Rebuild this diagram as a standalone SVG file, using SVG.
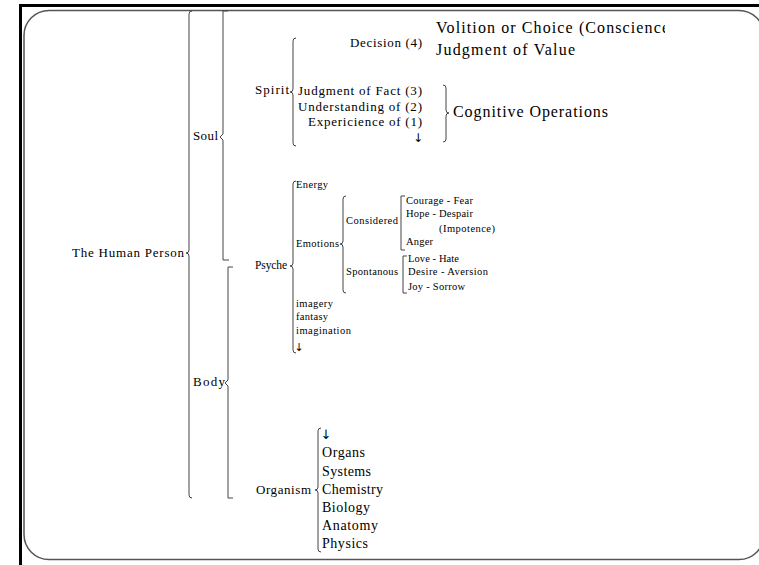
<svg xmlns="http://www.w3.org/2000/svg" width="759" height="565" viewBox="0 0 759 565">
<style>
text{font-family:"Liberation Serif","Times New Roman",serif;fill:#000}
.m{font-size:13px}
.l{font-size:16px}
.s{font-size:10.5px}
.o{font-size:14px}
.a{font-family:"DejaVu Sans",sans-serif}
.b{fill:none;stroke:#444;stroke-width:1}
</style>
<defs>
<clipPath id="clipV"><rect x="430" y="15" width="235" height="25"/></clipPath>
</defs>
<rect width="759" height="565" fill="#fff"/>
<g id="frame">
<line x1="19" y1="5.5" x2="759" y2="5.5" stroke="#000" stroke-width="3"/>
<line x1="20.5" y1="4" x2="20.5" y2="565" stroke="#000" stroke-width="3"/>
<rect x="24" y="10.5" width="740" height="549" rx="25" ry="25" fill="none" stroke="#555" stroke-width="1.5"/>
</g>
<g id="connectors">
<path class="b" d="M192 11 Q189 11 189 14 L189 250 Q189 253 186 253 Q189 253 189 256 L189 495 Q189 498 192 498"/>
<path class="b" d="M228 11 L223 11 L223 134 L220 137 L223 140 L223 260 L229 260"/>
<path class="b" d="M233 267 L228 267 L228 380 L225 383 L228 386 L228 498 L233 498"/>
<path class="b" d="M296 38 Q293 38 293 41 L293 89 Q293 92 290 92 Q293 92 293 95 L293 143 Q293 146 296 146"/>
<path class="b" d="M443 85 Q446 85 446 88 L446 110 Q446 113 449 113 Q446 113 446 116 L446 139 Q446 142 443 142"/>
<path class="b" d="M296 181 Q293 181 293 184 L293 263 Q293 266 290 266 Q293 266 293 269 L293 350 Q293 353 296 353"/>
<path class="b" d="M346 196 Q343 196 343 199 L343 241 Q343 244 340 244 Q343 244 343 247 L343 290 Q343 293 346 293"/>
<path class="b" d="M405 196 L401 196 L401 250 L405 250"/>
<path class="b" d="M407 256 L403 256 L403 293 L407 293"/>
<path class="b" d="M321 428 Q318 428 318 431 L318 487 Q318 490 315 490 Q318 490 318 493 L318 549 Q318 552 321 552"/>
</g>
<g id="human-person"><text class="m" x="72" y="257" textLength="112" lengthAdjust="spacing">The Human Person</text></g>
<g id="soul"><text class="m" x="193" y="140" textLength="25" lengthAdjust="spacing">Soul</text></g>
<g id="body"><text class="m" x="193" y="386" textLength="32" lengthAdjust="spacing">Body</text></g>
<g id="spirit"><text class="m" x="255" y="94" textLength="34" lengthAdjust="spacing">Spirit</text></g>
<g id="decision"><text class="m" x="350" y="47" textLength="72" lengthAdjust="spacing">Decision (4)</text></g>
<g id="judgment-fact"><text class="m" x="298" y="95" textLength="124" lengthAdjust="spacing">Judgment of Fact (3)</text></g>
<g id="understanding"><text class="m" x="298" y="111" textLength="124" lengthAdjust="spacing">Understanding of (2)</text></g>
<g id="experience"><text class="m" x="308" y="126" textLength="114" lengthAdjust="spacing">Expericience of (1)</text></g>
<g id="spirit-arrow"><text class="a" x="413" y="142" font-size="12">↓</text></g>
<g id="volition"><text class="l" x="436" y="33" textLength="233" lengthAdjust="spacing" clip-path="url(#clipV)">Volition or Choice (Conscience</text></g>
<g id="judgment-value"><text class="l" x="436" y="55" textLength="139" lengthAdjust="spacing">Judgment of Value</text></g>
<g id="cognitive"><text class="l" x="453" y="117" textLength="155" lengthAdjust="spacing">Cognitive Operations</text></g>
<g id="psyche"><text x="255" y="269" font-size="11.5" textLength="32" lengthAdjust="spacing">Psyche</text></g>
<g id="energy"><text class="s" x="296" y="188" textLength="32" lengthAdjust="spacing">Energy</text></g>
<g id="emotions"><text class="s" x="296" y="247" textLength="43" lengthAdjust="spacing">Emotions</text></g>
<g id="considered"><text class="s" x="346" y="224" textLength="52" lengthAdjust="spacing">Considered</text></g>
<g id="spontanous"><text class="s" x="346" y="275" textLength="52" lengthAdjust="spacing">Spontanous</text></g>
<g id="courage"><text class="s" x="406" y="204" textLength="67" lengthAdjust="spacing">Courage - Fear</text></g>
<g id="hope"><text class="s" x="406" y="217" textLength="67" lengthAdjust="spacing">Hope - Despair</text></g>
<g id="impotence"><text class="s" x="439" y="232" textLength="56" lengthAdjust="spacing">(Impotence)</text></g>
<g id="anger"><text class="s" x="406" y="245" textLength="27" lengthAdjust="spacing">Anger</text></g>
<g id="love"><text class="s" x="408" y="262" textLength="51" lengthAdjust="spacing">Love - Hate</text></g>
<g id="desire"><text class="s" x="408" y="275" textLength="80" lengthAdjust="spacing">Desire - Aversion</text></g>
<g id="joy"><text class="s" x="408" y="290" textLength="57" lengthAdjust="spacing">Joy - Sorrow</text></g>
<g id="imagery"><text class="s" x="296" y="307" textLength="37" lengthAdjust="spacing">imagery</text></g>
<g id="fantasy"><text class="s" x="296" y="320" textLength="32" lengthAdjust="spacing">fantasy</text></g>
<g id="imagination"><text class="s" x="296" y="334" textLength="55" lengthAdjust="spacing">imagination</text></g>
<g id="psyche-arrow"><text class="a" x="294.5" y="351" font-size="11">↓</text></g>
<g id="organism"><text class="m" x="256" y="494" textLength="55" lengthAdjust="spacing">Organism</text></g>
<g id="organism-arrow"><text class="a" x="320.5" y="439" font-size="13">↓</text></g>
<g id="organs"><text class="o" x="322" y="457" textLength="43" lengthAdjust="spacing">Organs</text></g>
<g id="systems"><text class="o" x="322" y="476" textLength="49" lengthAdjust="spacing">Systems</text></g>
<g id="chemistry"><text class="o" x="322" y="494" textLength="61" lengthAdjust="spacing">Chemistry</text></g>
<g id="biology"><text class="o" x="322" y="512" textLength="48" lengthAdjust="spacing">Biology</text></g>
<g id="anatomy"><text class="o" x="322" y="530" textLength="56" lengthAdjust="spacing">Anatomy</text></g>
<g id="physics"><text class="o" x="322" y="548" textLength="46" lengthAdjust="spacing">Physics</text></g>
</svg>
